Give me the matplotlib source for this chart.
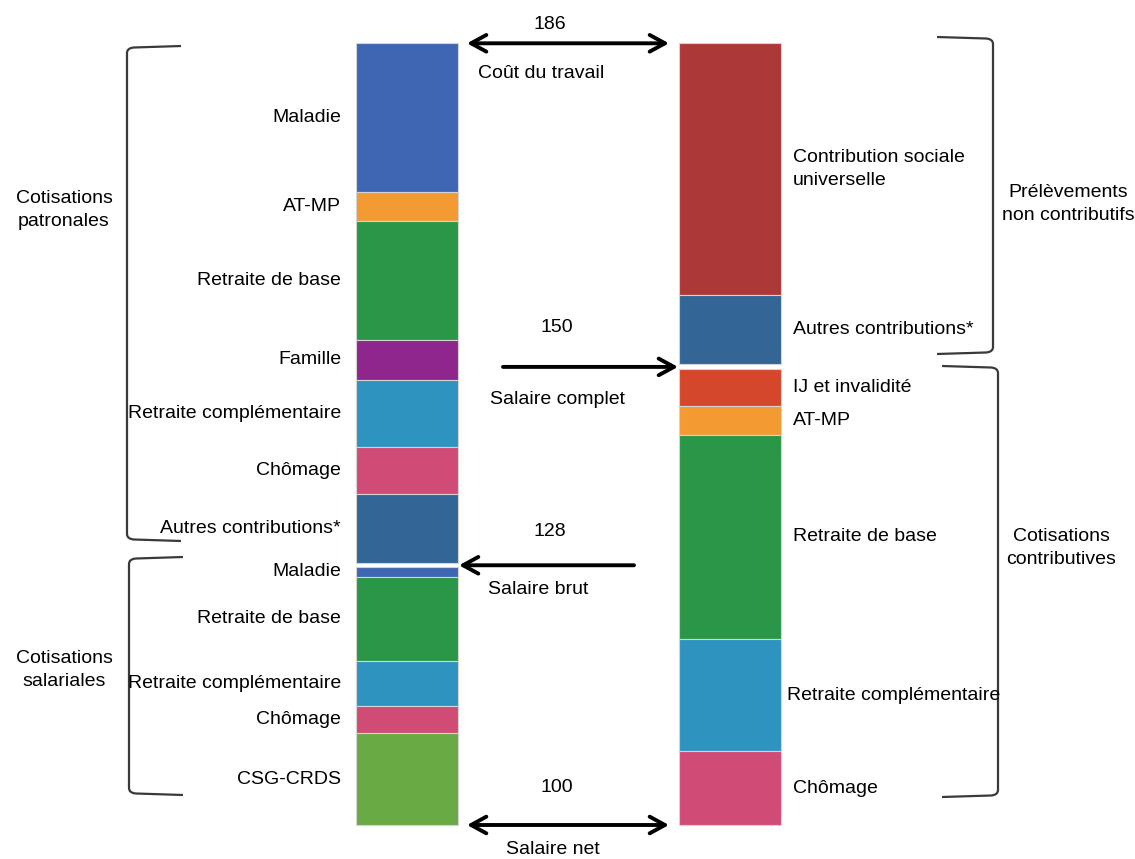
import numpy as np
import matplotlib
matplotlib.use('Agg')
import matplotlib.pyplot as plt
from matplotlib.path import Path
from matplotlib.patches import PathPatch

plt.rcParams['font.family'] = ['Liberation Sans', 'DejaVu Sans']

#%% Data (heights, total bar = 186)
patr_labels = ['Maladie', 'AT-MP', 'Retraite de base', 'Famille',
               'Retraite complémentaire', 'Chômage', 'Autres contributions*']
patr_values = [35.4, 6.8, 28.4, 9.5, 15.9, 11.2, 16.5]
patr_colors = ['#3F66B3', '#F39B32', '#2A9647', '#8E268E',
               '#2E94BF', '#D04C76', '#336595']

left_gap = 1.0

sal_labels = ['Maladie', 'Retraite de base', 'Retraite complémentaire',
              'Chômage', 'CSG-CRDS']
sal_values = [2.2, 20.0, 10.7, 6.6, 21.8]
sal_colors = ['#3F66B3', '#2A9647', '#2E94BF', '#D04C76', '#6AAA45']

noncontrib_labels = ['Contribution sociale\nuniverselle', 'Autres contributions*']
noncontrib_values = [59.9, 16.5]
noncontrib_colors = ['#AC3838', '#336595']

right_gap = 1.2

contrib_labels = ['IJ et invalidité', 'AT-MP', 'Retraite de base',
                  'Retraite complémentaire', 'Chômage']
contrib_values = [8.7, 6.9, 48.5, 26.8, 17.5]
contrib_colors = ['#D5472B', '#F39B32', '#2A9647', '#2E94BF', '#D04C76']

level_values = [186, 150, 128, 100]
level_names = ['Coût du travail', 'Salaire complet', 'Salaire brut', 'Salaire net']

group_names = ['Cotisations\npatronales', 'Cotisations\nsalariales',
               'Prélèvements\nnon contributifs', 'Cotisations\ncontributives']

#%% Figure set-up: x in pixels, y in bar units
W, H = 1135, 859
BOT_PX, TOP_PX = 825.0, 43.3
total = sum(patr_values) + left_gap + sum(sal_values)
k = (BOT_PX - TOP_PX) / total

def u(py):
    return (BOT_PX - py) / k

fig = plt.figure(figsize=(W / 100, H / 100), dpi=100)
ax = fig.add_axes([0, 0, 1, 1])
ax.set_xlim(0, W)
ax.set_ylim(u(H), u(0))
ax.axis('off')

FS = 14
LS = 1.45
XL, XR = 407, 729.5
BW = 102


def stack(x, values, colors, top):
    bottoms = top - np.cumsum(values)
    ax.bar([x] * len(values), values, bottom=bottoms, width=BW,
           color=colors, edgecolor='#d4d4d4', linewidth=0.8)
    return bottoms


# left bar
patr_bot = stack(XL, patr_values, patr_colors, total)
sal_top = patr_bot[-1] - left_gap
sal_bot = stack(XL, sal_values, sal_colors, sal_top)

for lab, v, b in zip(patr_labels + sal_labels, patr_values + sal_values,
                     list(patr_bot) + list(sal_bot)):
    ax.text(341, b + v / 2, lab, ha='right', va='center', fontsize=FS)

# right bar
nc_bot = stack(XR, noncontrib_values, noncontrib_colors, total)
c_top = nc_bot[-1] - right_gap
c_bot = stack(XR, contrib_values, contrib_colors, c_top)

for lab, v, b in zip(noncontrib_labels + contrib_labels,
                     noncontrib_values + contrib_values,
                     list(nc_bot) + list(c_bot)):
    xt = 787 if lab == 'Retraite complémentaire' else 793
    ax.text(xt, b + v / 2, lab, ha='left', va='center', fontsize=FS,
            linespacing=LS)

#%% Arrows
arr = dict(lw=2.8, color='black', shrinkA=0, shrinkB=0, mutation_scale=20)
ax.annotate('', xy=(669, total), xytext=(467, total),
            arrowprops=dict(arrowstyle='<->,head_length=0.55,head_width=0.3', **arr))
ax.annotate('', xy=(669, 0), xytext=(467, 0),
            arrowprops=dict(arrowstyle='<->,head_length=0.55,head_width=0.3', **arr))
y150 = c_top + right_gap / 2
ax.annotate('', xy=(678, y150), xytext=(503, y150),
            arrowprops=dict(arrowstyle='->,head_length=0.55,head_width=0.3', **arr))
y128 = sal_top + left_gap / 2
ax.annotate('', xy=(459, y128), xytext=(634, y128),
            arrowprops=dict(arrowstyle='->,head_length=0.55,head_width=0.3', **arr))

num_pos = [(550, 25), (557, 327), (550, 531), (557, 787)]
name_pos = [(541, 73), (557, 400), (538, 590), (553, 850)]
for val, name, (nx, ny), (tx, ty) in zip(level_values, level_names, num_pos, name_pos):
    ax.text(nx, u(ny), str(val), ha='center', va='center', fontsize=FS)
    ax.text(tx, u(ty), name, ha='center', va='center', fontsize=FS)

#%% Braces
def brace(xv, xend, ytop, ybot, r=7):
    # hooks toward xend, vertical line at xv (all in pixels)
    d = np.sign(xend - xv)
    verts = [(xend, u(ytop)), (xv + d * r, u(ytop + 1.5)), (xv, u(ytop + 2)),
             (xv, u(ytop + r)),
             (xv, u(ybot - r)), (xv, u(ybot - 2)), (xv + d * r, u(ybot - 1.5)),
             (xend, u(ybot))]
    codes = [Path.MOVETO, Path.LINETO, Path.CURVE3, Path.CURVE3,
             Path.LINETO, Path.CURVE3, Path.CURVE3, Path.LINETO]
    ax.add_patch(PathPatch(Path(verts, codes), fill=False,
                           edgecolor='#3a3a3a', lw=1.6))

brace(127, 181, 46, 541)
brace(129, 183, 557, 795)
brace(993, 937, 37, 354)
brace(998, 942, 366, 797)

group_pos = [(64, 210), (64, 670), (1068, 204), (1061, 548)]
for name, (gx, gy) in zip(group_names, group_pos):
    ax.text(gx, u(gy), name, ha='center', va='center', fontsize=FS,
            linespacing=LS)

fig.savefig('out.png', dpi=100)
